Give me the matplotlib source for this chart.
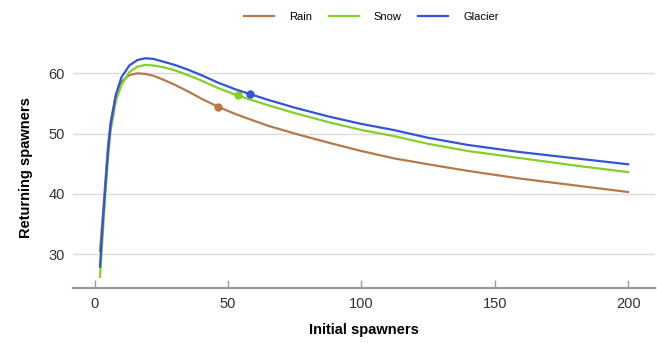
import numpy as np
import matplotlib
matplotlib.use('Agg')
import matplotlib.pyplot as plt

plt.rcParams['font.family'] = ['Liberation Sans', 'DejaVu Sans']

# initial spawners (x)
x = [2, 3, 4, 5, 6, 8, 10, 13, 16, 19, 22, 26, 30, 35, 40, 46, 53, 58, 65,
     70, 75, 88, 100, 112, 125, 140, 160, 180, 200]

# returning spawners per regime
rain = [30.5, 36, 42, 48, 52, 56.5, 58.6, 59.7, 60.0, 59.9, 59.6, 58.9, 58.1,
        57.0, 55.8, 54.5, 53.2, 52.4, 51.3, 50.65, 50.0, 48.45, 47.1, 45.9,
        44.9, 43.8, 42.5, 41.4, 40.3]
snow = [26.2, 33, 40, 46, 50.5, 55.5, 58.0, 60.2, 61.1, 61.4, 61.3, 61.0,
        60.5, 59.7, 58.8, 57.6, 56.4, 55.7, 54.7, 54.05, 53.4, 51.85, 50.6,
        49.6, 48.3, 47.1, 45.9, 44.7, 43.6]
glacier = [27.9, 35, 41, 47, 51.5, 56.5, 59.3, 61.3, 62.2, 62.5, 62.4, 61.9,
           61.4, 60.6, 59.7, 58.5, 57.3, 56.6, 55.6, 54.95, 54.3, 52.8, 51.6,
           50.6, 49.3, 48.1, 46.9, 45.9, 44.9]

# marked points (x, y)
dot_x = [46.2, 53.7, 58.1]
dot_y = [54.4, 56.4, 56.6]

labels = ['Rain', 'Snow', 'Glacier']
colors = ['#b8784a', '#84d02a', '#3355d5']

fig = plt.figure(figsize=(6.57, 3.43), dpi=100)
ax = fig.add_axes([0.1116, 0.161, 0.885, 0.699])

series = [rain, snow, glacier]
for i in range(3):
    ax.plot(x, series[i], color=colors[i], lw=1.6, label=labels[i])
    ax.plot(dot_x[i], dot_y[i], 'o', color=colors[i], ms=5)

ax.set_xlim(-8, 210)
ax.set_ylim(24.4, 64.2)
ax.set_xticks([0, 50, 100, 150, 200])
ax.set_yticks([30, 40, 50, 60])
ax.yaxis.grid(True, color='#dcdcdc', lw=1)
ax.set_axisbelow(True)

for s in ['top', 'right', 'left']:
    ax.spines[s].set_visible(False)
ax.spines['bottom'].set_color('#9a9a9a')
ax.spines['bottom'].set_linewidth(1.6)
ax.tick_params(axis='x', direction='in', length=6, width=1, color='#9a9a9a',
               labelsize=10.5, labelcolor='#333333', pad=7)
ax.tick_params(axis='y', length=0, labelsize=10.5, labelcolor='#333333', pad=6)

ax.set_xlabel('Initial spawners', fontsize=10.5, fontweight='bold', labelpad=8)
ax.set_ylabel('Returning spawners', fontsize=10.5, fontweight='bold', labelpad=11)

fig.legend(loc='center', bbox_to_anchor=(0.5655, 0.951), ncol=3,
           frameon=False, fontsize=8, handlelength=2.7, handletextpad=1.35,
           columnspacing=1.5)

fig.savefig('out.png', dpi=100)
